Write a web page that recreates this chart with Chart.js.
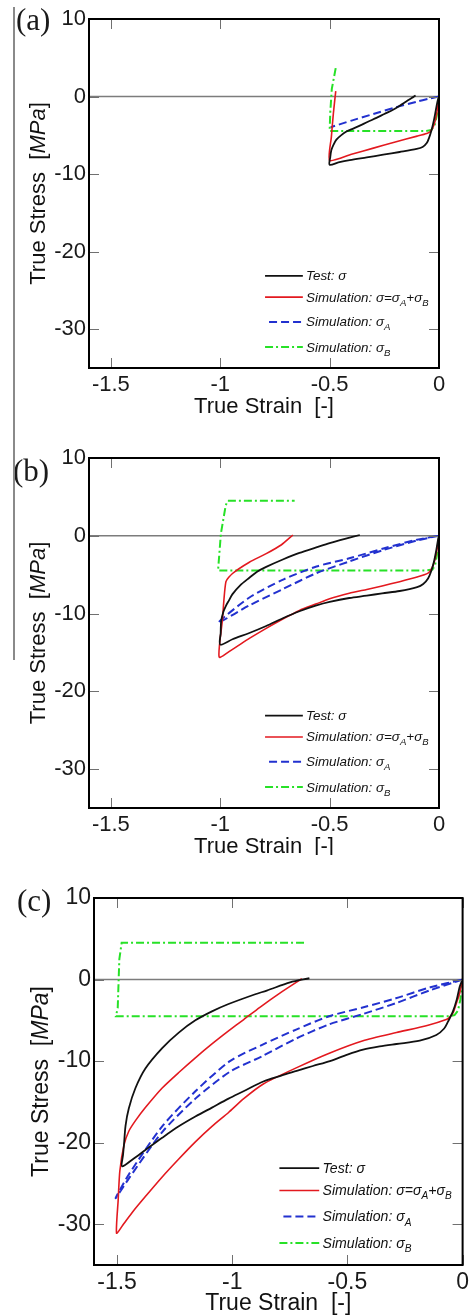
<!DOCTYPE html>
<html>
<head>
<meta charset="utf-8">
<script src="https://cdn.jsdelivr.net/npm/chart.js@4.4.0/dist/chart.umd.min.js"></script>
<style>
  body { margin: 0; background: #fff; width: 473px; height: 1316px; position: relative; overflow: hidden; }
  .panel { position: absolute; left: 0; width: 473px; }
  #scanLine { position: absolute; left: 13px; top: 7px; width: 2px; height: 653px; background: #8a8a8a; }
</style>
</head>
<body>
<div class="panel" style="top:0;height:425px"><canvas id="chartA"></canvas></div>
<div class="panel" style="top:430px;height:425px"><canvas id="chartB"></canvas></div>
<div class="panel" style="top:870px;height:446px"><canvas id="chartC"></canvas></div>
<div id="scanLine"></div>
<script>
// Axis ranges and tick labels
const strainRange = [-1.6, 0];
const stressRange = [-35, 10];
const strainTicks = [-1.5, -1, -0.5, 0];
const stressTicks = [10, 0, -10, -20, -30];

// (a) compressed to -0.5   [true strain, true stress MPa]
const aTest = [[0,0],[-0.005,-0.4],[-0.011,-1.2],[-0.018,-2.3],[-0.026,-3.4],[-0.034,-4.3],[-0.045,-5.3],[-0.056,-6.0],[-0.075,-6.5],[-0.102,-6.75],[-0.18,-7.15],[-0.255,-7.5],[-0.33,-7.85],[-0.408,-8.2],[-0.46,-8.5],[-0.5,-8.8],[-0.497,-7.8],[-0.492,-6.9],[-0.482,-6.2],[-0.469,-5.55],[-0.448,-5.0],[-0.423,-4.5],[-0.39,-4.1],[-0.362,-3.75],[-0.325,-3.25],[-0.286,-2.75],[-0.25,-2.25],[-0.21,-1.7],[-0.178,-1.15],[-0.148,-0.6],[-0.125,-0.2],[-0.107,0.15]];
const aSim = [[0,0],[-0.004,-0.9],[-0.01,-2.1],[-0.018,-3.2],[-0.028,-4.0],[-0.04,-4.5],[-0.056,-4.75],[-0.1,-5.1],[-0.2,-5.85],[-0.3,-6.65],[-0.4,-7.45],[-0.5,-8.25],[-0.492,-5.2],[-0.483,-2.2],[-0.472,0.7]];
const aSigA = [[0,0],[-0.05,-0.3],[-0.1,-0.65],[-0.2,-1.4],[-0.3,-2.25],[-0.4,-3.1],[-0.495,-3.95]];
const aSigB = [[0,0],[-0.004,-1.0],[-0.01,-2.5],[-0.02,-3.7],[-0.035,-4.3],[-0.06,-4.45],[-0.5,-4.45],[-0.497,-2.0],[-0.49,1.0],[-0.47,4.0]];

// (b) compressed to -1.0
const bTest = [[0,0],[-0.005,-0.6],[-0.012,-1.8],[-0.022,-3.2],[-0.035,-4.5],[-0.05,-5.5],[-0.072,-6.2],[-0.1,-6.6],[-0.18,-7.1],[-0.26,-7.4],[-0.33,-7.7],[-0.41,-8.0],[-0.5,-8.5],[-0.56,-8.95],[-0.638,-9.7],[-0.714,-10.6],[-0.79,-11.6],[-0.867,-12.5],[-0.944,-13.3],[-1.0,-14.0],[-0.998,-12.5],[-0.996,-11.0],[-0.986,-9.8],[-0.974,-9.0],[-0.96,-8.3],[-0.944,-7.5],[-0.91,-6.4],[-0.867,-5.4],[-0.83,-4.6],[-0.79,-4.0],[-0.714,-3.05],[-0.638,-2.2],[-0.561,-1.5],[-0.5,-0.95],[-0.43,-0.4],[-0.362,0.1]];
const bSim = [[0,0],[-0.005,-1.0],[-0.012,-2.2],[-0.02,-3.2],[-0.033,-4.2],[-0.05,-4.8],[-0.1,-5.3],[-0.18,-5.9],[-0.26,-6.45],[-0.33,-6.9],[-0.41,-7.4],[-0.5,-8.1],[-0.56,-8.75],[-0.638,-9.6],[-0.714,-10.7],[-0.79,-11.9],[-0.867,-13.2],[-0.944,-14.6],[-1.005,-15.6],[-0.99,-10.8],[-0.974,-5.9],[-0.944,-4.85],[-0.867,-3.4],[-0.79,-2.3],[-0.72,-1.15],[-0.668,0.1]];
const bSigA = [[0,0],[-0.1,-0.6],[-0.25,-1.8],[-0.41,-3.3],[-0.56,-4.8],[-0.71,-6.8],[-0.87,-9.0],[-1.01,-11.2],[-0.87,-8.0],[-0.71,-5.6],[-0.56,-3.95],[-0.41,-2.9],[-0.25,-1.6],[-0.1,-0.5],[0,0]];
const bSigB = [[0,0],[-0.004,-1.0],[-0.01,-2.6],[-0.018,-3.8],[-0.03,-4.35],[-0.06,-4.45],[-1.01,-4.45],[-0.997,0.3],[-0.975,3.9],[-0.966,4.5],[-0.66,4.5]];

// (c) compressed to -1.5
const cTest = [[0,0],[-0.005,-0.3],[-0.013,-0.9],[-0.025,-2.4],[-0.042,-3.9],[-0.064,-5.2],[-0.08,-6.0],[-0.114,-6.8],[-0.186,-7.5],[-0.287,-7.9],[-0.36,-8.2],[-0.432,-8.6],[-0.5,-9.2],[-0.576,-10.0],[-0.65,-10.6],[-0.72,-11.2],[-0.79,-11.8],[-0.865,-12.5],[-0.951,-13.7],[-1.016,-14.6],[-1.088,-15.7],[-1.16,-16.8],[-1.232,-18.0],[-1.304,-19.4],[-1.377,-20.9],[-1.43,-22.0],[-1.478,-22.9],[-1.474,-21.5],[-1.47,-20.3],[-1.463,-17.9],[-1.449,-15.8],[-1.42,-13.3],[-1.377,-10.9],[-1.304,-8.4],[-1.232,-6.5],[-1.16,-5.0],[-1.088,-3.9],[-1.016,-3.0],[-0.9,-1.8],[-0.85,-1.35],[-0.749,-0.35],[-0.665,0.16]];
const cSim = [[0,0],[-0.005,-0.6],[-0.013,-1.7],[-0.027,-2.9],[-0.04,-4.0],[-0.056,-4.6],[-0.071,-4.9],[-0.15,-5.6],[-0.287,-6.5],[-0.432,-7.5],[-0.576,-9.0],[-0.72,-10.8],[-0.865,-12.8],[-0.95,-14.6],[-1.016,-16.3],[-1.088,-18.0],[-1.16,-19.9],[-1.232,-22.0],[-1.304,-24.2],[-1.377,-26.6],[-1.43,-28.4],[-1.47,-29.9],[-1.502,-31.1],[-1.495,-27.0],[-1.488,-23.5],[-1.47,-20.3],[-1.449,-18.6],[-1.42,-17.3],[-1.377,-15.7],[-1.304,-13.3],[-1.232,-11.4],[-1.16,-9.6],[-1.088,-7.9],[-1.016,-6.3],[-0.95,-4.9],[-0.88,-3.4],[-0.79,-1.6],[-0.698,0.1]];
const cSigA = [[0,0],[-0.14,-1.3],[-0.29,-2.9],[-0.43,-4.2],[-0.58,-5.5],[-0.72,-7.2],[-0.87,-9.4],[-1.01,-11.3],[-1.16,-14.6],[-1.304,-18.7],[-1.449,-24.4],[-1.506,-26.8],[-1.449,-23.9],[-1.304,-18.0],[-1.16,-13.7],[-1.01,-10.0],[-0.87,-8.0],[-0.72,-6.1],[-0.58,-4.5],[-0.43,-3.4],[-0.29,-2.3],[-0.14,-0.95],[0,0]];
const cSigB = [[0,0],[-0.004,-1.0],[-0.01,-2.5],[-0.02,-3.8],[-0.035,-4.35],[-0.06,-4.5],[-1.505,-4.5],[-1.497,-3.5],[-1.493,0],[-1.49,2.5],[-1.48,4.5],[-0.688,4.5]];

const curveColors = { test: '#111111', sim: '#e3191f', sigA: '#2231cf', sigB: '#27e127' };
const curveWidths = { test: 1.8, sim: 1.6, sigA: 2, sigB: 2 };
const curveDashes = { test: [], sim: [], sigA: [8, 4], sigB: [8, 3, 2, 3] };
const curveTension = { test: 0.3, sim: 0.2, sigA: 0.25, sigB: 0 };

const legendRows = [
    { key: 'test', parts: [['Test: σ']] },
    { key: 'sim', parts: [['Simulation: σ=σ'], ['A', true], ['+σ'], ['B', true]] },
    { key: 'sigA', parts: [['Simulation: σ'], ['A', true]] },
    { key: 'sigB', parts: [['Simulation: σ'], ['B', true]] }
];
const legendRowY = [0.736, 0.797, 0.868, 0.94];

const sansFamily = "'Liberation Sans', Arial, sans-serif";

function drawParts(ctx, parts, x, y, size) {
    parts.forEach(([text, sub]) => {
        ctx.font = `italic ${sub ? size * 0.72 : size}px ${sansFamily}`;
        ctx.fillText(text, x, sub ? y + size * 0.3 : y);
        x += ctx.measureText(text).width;
    });
}

const paperPlugin = {
    id: 'paper',
    beforeDatasetsDraw(chart) {
        const { ctx, chartArea: a, scales: { y } } = chart;
        const y0 = y.getPixelForValue(0);
        ctx.save();
        ctx.strokeStyle = '#7c7c7c';
        ctx.lineWidth = 1.5;
        ctx.beginPath();
        ctx.moveTo(a.left, y0);
        ctx.lineTo(a.right, y0);
        ctx.stroke();
        ctx.restore();
    },
    afterDraw(chart) {
        const opts = chart.options.plugins.paper;
        const { ctx, chartArea: a, scales: { x, y } } = chart;
        const k = (a.right - a.left) / 350;
        ctx.save();

        // inward tick marks on all four sides
        ctx.strokeStyle = '#707070';
        ctx.lineWidth = 1;
        ctx.beginPath();
        strainTicks.forEach(v => {
            const px = Math.round(x.getPixelForValue(v)) + 0.5;
            ctx.moveTo(px, a.bottom); ctx.lineTo(px, a.bottom - 10);
            ctx.moveTo(px, a.top); ctx.lineTo(px, a.top + 10);
        });
        stressTicks.forEach(v => {
            const py = Math.round(y.getPixelForValue(v)) + 0.5;
            ctx.moveTo(a.left, py); ctx.lineTo(a.left + 10, py);
            ctx.moveTo(a.right, py); ctx.lineTo(a.right - 10, py);
        });
        ctx.stroke();

        ctx.strokeStyle = '#000';
        ctx.lineWidth = 2;
        ctx.strokeRect(a.left, a.top, a.right - a.left, a.bottom - a.top);

        // legend box inside the plot
        const lx0 = a.left + 0.503 * (a.right - a.left);
        const lx1 = a.left + 0.611 * (a.right - a.left);
        const tx = a.left + 0.62 * (a.right - a.left);
        const fs = 13.4 * k;
        legendRows.forEach((row, i) => {
            const ly = a.top + legendRowY[i] * (a.bottom - a.top);
            ctx.strokeStyle = curveColors[row.key];
            ctx.lineWidth = curveWidths[row.key];
            ctx.setLineDash(curveDashes[row.key]);
            ctx.beginPath();
            ctx.moveTo(row.key === 'sigA' ? lx0 + 4 : lx0, ly);
            ctx.lineTo(lx1, ly);
            ctx.stroke();
            ctx.setLineDash([]);
            ctx.fillStyle = '#111';
            ctx.textBaseline = 'alphabetic';
            ctx.textAlign = 'left';
            drawParts(ctx, row.parts, tx, ly + 4.5 * k, fs);
        });

        // axis titles
        const titleSize = Math.round(22 * k);
        ctx.fillStyle = '#111';
        ctx.font = `${titleSize}px ${sansFamily}`;
        ctx.textAlign = 'center';
        ctx.fillText('True Strain  [-]', (a.left + a.right) / 2, a.bottom + 45);

        const yParts = [['True Stress  [', false], ['MPa', true], [']', false]];
        ctx.translate(opts.yTitleX, (a.top + a.bottom) / 2);
        ctx.rotate(-Math.PI / 2);
        ctx.textAlign = 'left';
        ctx.textBaseline = 'middle';
        let total = 0;
        yParts.forEach(([t, it]) => {
            ctx.font = `${it ? 'italic ' : ''}${titleSize}px ${sansFamily}`;
            total += ctx.measureText(t).width;
        });
        let cx = -total / 2;
        yParts.forEach(([t, it]) => {
            ctx.font = `${it ? 'italic ' : ''}${titleSize}px ${sansFamily}`;
            ctx.fillText(t, cx, 0);
            cx += ctx.measureText(t).width;
        });
        ctx.setTransform(1, 0, 0, 1, 0, 0);

        // panel letter
        ctx.font = `31px 'Liberation Serif', 'Times New Roman', serif`;
        ctx.textAlign = 'left';
        ctx.textBaseline = 'alphabetic';
        ctx.fillStyle = '#1a1a1a';
        ctx.fillText(opts.letter, opts.letterX, opts.letterY);
        ctx.restore();
    }
};

function series(points, key) {
    return {
        label: key,
        data: points.map(p => ({ x: p[0], y: p[1] })),
        showLine: true,
        borderColor: curveColors[key],
        borderWidth: curveWidths[key],
        borderDash: curveDashes[key],
        pointRadius: 0,
        tension: curveTension[key],
        fill: false
    };
}

function makeChart(canvasId, area, paper, curves) {
    const canvas = document.getElementById(canvasId);
    const box = canvas.parentElement;
    const k = (area.right - area.left) / 350;
    const tickFont = { family: sansFamily, size: Math.round(22 * k) };

    new Chart(canvas, {
        type: 'scatter',
        data: {
            datasets: [
                series(curves.test, 'test'),
                series(curves.sim, 'sim'),
                series(curves.sigA, 'sigA'),
                series(curves.sigB, 'sigB')
            ]
        },
        options: {
            responsive: true,
            maintainAspectRatio: false,
            animation: false,
            layout: { padding: { left: 0, top: area.top, right: box.clientWidth - area.right, bottom: 0 } },
            scales: {
                x: {
                    type: 'linear',
                    min: strainRange[0],
                    max: strainRange[1],
                    afterBuildTicks: s => { s.ticks = strainTicks.map(v => ({ value: v })); },
                    afterFit: s => { s.height = box.clientHeight - area.bottom; },
                    grid: { display: false, drawTicks: false },
                    border: { display: false },
                    ticks: { padding: 4, color: '#1a1a1a', font: tickFont, maxRotation: 0, autoSkip: false, callback: v => String(v) }
                },
                y: {
                    type: 'linear',
                    min: stressRange[0],
                    max: stressRange[1],
                    afterBuildTicks: s => { s.ticks = stressTicks.map(v => ({ value: v })); },
                    afterFit: s => { s.width = area.left; },
                    grid: { display: false, drawTicks: false },
                    border: { display: false },
                    ticks: { padding: 3, color: '#1a1a1a', font: tickFont, autoSkip: false, callback: v => String(v) }
                }
            },
            plugins: {
                legend: { display: false },
                tooltip: { enabled: false },
                paper: paper
            }
        },
        plugins: [paperPlugin]
    });
}

makeChart('chartA', { left: 89, top: 19, right: 439, bottom: 368 },
    { letter: '(a)', letterX: 16, letterY: 30, yTitleX: 39 },
    { test: aTest, sim: aSim, sigA: aSigA, sigB: aSigB });
makeChart('chartB', { left: 89, top: 28, right: 439, bottom: 378 },
    { letter: '(b)', letterX: 13, letterY: 51, yTitleX: 39 },
    { test: bTest, sim: bSim, sigA: bSigA, sigB: bSigB });
makeChart('chartC', { left: 94, top: 28, right: 463, bottom: 395 },
    { letter: '(c)', letterX: 17, letterY: 41, yTitleX: 42 },
    { test: cTest, sim: cSim, sigA: cSigA, sigB: cSigB });
</script>
</body>
</html>
